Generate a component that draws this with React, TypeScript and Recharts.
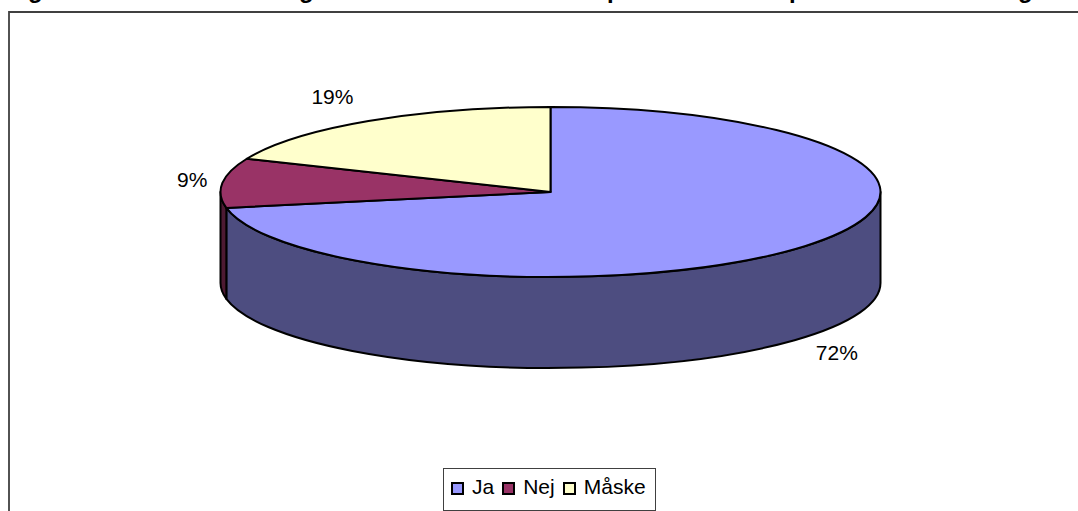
import { PieChart, Pie, Cell, Legend } from "recharts";

const categories = ["Ja", "Nej", "Måske"];
const values = [72, 9.4, 18.6];
const topColors = ["#9999ff", "#993366", "#ffffcc"];
const sideColors = ["#4d4d80", "#4d1a33", "#808066"];

// the title is cut off by the top of the picture, only these descenders are left
const titleRemains = "ggppg";
const titleRemainsX = [28, 299, 607, 789, 1018];

const tableData = categories.map((name, i) => ({ name, value: values[i] }));

const FONT = "'Liberation Sans', Arial, sans-serif";
const WIDTH = 1078;
const HEIGHT = 511;
const TILT = 85 / 330;
const DEPTH = 91;
const RADIAN = Math.PI / 180;

function point(cx: number, cy: number, r: number, angle: number) {
  return {
    x: cx + r * Math.cos(angle * RADIAN),
    y: cy - r * TILT * Math.sin(angle * RADIAN),
  };
}

// recharts hands over circular sectors, they are squashed into an ellipse here
function TopSlice(props: any) {
  const { cx, cy, outerRadius: r, startAngle, endAngle, fill } = props;
  const a = point(cx, cy, r, startAngle);
  const b = point(cx, cy, r, endAngle);
  const large = Math.abs(startAngle - endAngle) > 180 ? 1 : 0;
  const d = `M${cx},${cy} L${a.x},${a.y} A${r},${r * TILT} 0 ${large} 1 ${b.x},${b.y} Z`;
  return <path d={d} fill={fill} stroke="#000" strokeWidth={2} strokeLinejoin="round" />;
}

// wall under a slice: only the part of the rim facing the viewer (angles 0 to -180)
function SideSlice(props: any) {
  const { cx, cy, outerRadius: r, startAngle, endAngle, fill } = props;
  const from = Math.min(startAngle, 0);
  const to = Math.max(endAngle, -180);
  if (from <= to) return null;
  const a = point(cx, cy, r, from);
  const b = point(cx, cy, r, to);
  const d =
    `M${a.x},${a.y} A${r},${r * TILT} 0 0 1 ${b.x},${b.y} ` +
    `L${b.x},${b.y + DEPTH} A${r},${r * TILT} 0 0 0 ${a.x},${a.y + DEPTH} Z`;
  return <path d={d} fill={fill} stroke="#000" strokeWidth={2} strokeLinejoin="round" />;
}

function PercentLabel(props: any) {
  const { cx, cy, outerRadius: r, midAngle, percent } = props;
  const cos = Math.cos(midAngle * RADIAN);
  const sin = Math.sin(midAngle * RADIAN);
  const x = cx + r * cos + (cos > 0 ? 11 : -15);
  const y = cy - r * TILT * 1.35 * sin + (sin < 0 ? DEPTH - 4 : 0);
  return (
    <text
      x={x}
      y={y}
      textAnchor={cos > 0 ? "start" : "end"}
      dominantBaseline="central"
      fontFamily={FONT}
      fontSize={21}
      fill="#000"
    >
      {Math.round(percent * 100)}%
    </text>
  );
}

function LegendBox({ payload }: any) {
  // the wall pie also lands in the payload, keep the top one in data order
  const items = categories.map((name, i) => ({ name, color: topColors[i] }));
  const shown = items.filter((it) => (payload || []).some((p: any) => p.value === it.name));
  return (
    <div
      style={{
        boxSizing: "border-box",
        width: 213,
        height: 43,
        background: "#fff",
        border: "1.5px solid #404040",
        display: "flex",
        alignItems: "center",
        paddingLeft: 7,
        fontFamily: FONT,
        fontSize: 21,
        color: "#000",
      }}
    >
      {shown.map((entry) => (
        <span key={entry.name} style={{ display: "flex", alignItems: "center", marginRight: 8 }}>
          <span
            style={{
              boxSizing: "border-box",
              width: 13,
              height: 13,
              marginRight: 8,
              marginTop: -2,
              background: entry.color,
              border: "2px solid #000",
            }}
          />
          <span style={{ position: "relative", top: -3 }}>{entry.name}</span>
        </span>
      ))}
    </div>
  );
}

export default function App() {
  return (
    <div style={{ position: "absolute", left: 0, top: 0, width: WIDTH, height: HEIGHT, overflow: "hidden", background: "#fff" }}>
      <PieChart width={WIDTH} height={HEIGHT} margin={{ top: 0, right: 0, bottom: 0, left: 0 }}>
        <text x={titleRemainsX.join(" ")} y={-2.5} fontFamily={FONT} fontSize={24} fontWeight="bold" fill="#000">
          {titleRemains}
        </text>
        <path d={`M9,${HEIGHT} V12 H${WIDTH}`} fill="none" stroke="#404040" strokeWidth={1.8} />
        <Pie
          data={tableData}
          dataKey="value"
          nameKey="name"
          cx={550.5}
          cy={192}
          outerRadius={330}
          startAngle={90}
          endAngle={-270}
          legendType="none"
          shape={SideSlice}
          isAnimationActive={false}
        >
          {sideColors.map((c) => (
            <Cell key={c} fill={c} />
          ))}
        </Pie>
        <Pie
          data={tableData}
          dataKey="value"
          nameKey="name"
          cx={550.5}
          cy={192}
          outerRadius={330}
          startAngle={90}
          endAngle={-270}
          shape={TopSlice}
          label={PercentLabel}
          labelLine={false}
          isAnimationActive={false}
        >
          {topColors.map((c) => (
            <Cell key={c} fill={c} />
          ))}
        </Pie>
        <Legend
          content={LegendBox}
          wrapperStyle={{ position: "absolute", left: 443, top: 468, width: 213, bottom: "auto" }}
        />
      </PieChart>
    </div>
  );
}
